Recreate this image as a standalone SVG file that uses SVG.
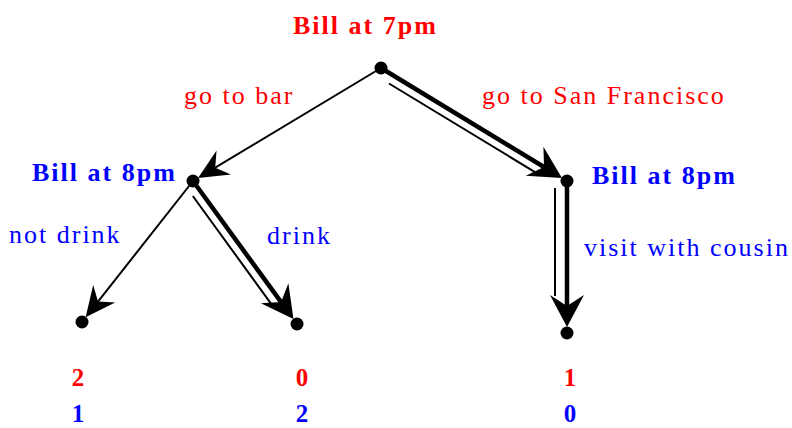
<svg xmlns="http://www.w3.org/2000/svg" width="792" height="428" viewBox="0 0 792 428">
<style>
.t{font-family:"Liberation Serif","Times New Roman",serif;font-size:26px;letter-spacing:2px}
.b{font-weight:bold;letter-spacing:2px}
.n{font-family:"Liberation Serif","Times New Roman",serif;font-size:25px;font-weight:bold;text-anchor:middle}
.red{fill:#ff0000}
.blue{fill:#0000ff}
.thin{stroke:#000;stroke-width:2;fill:none}
.thick{stroke:#000;stroke-width:4.5;fill:none}
.dot{fill:#000}
</style>
<defs>
<marker id="ah" markerUnits="userSpaceOnUse" viewBox="-14 -20 40 40" refX="0" refY="0" markerWidth="40" markerHeight="40" orient="auto" overflow="visible">
<path d="M20,0 L-10,-14 L0,0 L-10,14 Z" fill="#000"/>
</marker>
<marker id="ahb" markerUnits="userSpaceOnUse" viewBox="-14 -20 40 40" refX="0" refY="0" markerWidth="40" markerHeight="40" orient="auto" overflow="visible">
<path d="M21,0 L-11,-17 L0,0 L-11,17 Z" fill="#000"/>
</marker>
</defs>
<g id="connectors">
<line class="thin" x1="381" y1="68" x2="215.2" y2="167.7" marker-end="url(#ah)"/>
<line class="thick" x1="381" y1="68" x2="544.0" y2="167.0" marker-end="url(#ahb)"/>
<line class="thin" x1="389" y1="83.5" x2="535" y2="172.1"/>
<line class="thin" x1="193" y1="181" x2="98.0" y2="301.6" marker-end="url(#ah)"/>
<line class="thick" x1="193" y1="181" x2="281.1" y2="302.1" marker-end="url(#ahb)"/>
<line class="thin" x1="192.8" y1="196" x2="271.5" y2="304.3"/>
<line class="thick" x1="567" y1="181" x2="567" y2="306" marker-end="url(#ahb)"/>
<line class="thin" x1="555" y1="188" x2="555" y2="296"/>
<text class="t red" x="184" y="104">go to bar</text>
<text class="t red" x="482" y="104">go to San Francisco</text>
<text class="t blue" x="9" y="243">not drink</text>
<text class="t blue" x="267" y="244">drink</text>
<text class="t blue" x="584" y="256">visit with cousin</text>
</g>
<g id="root">
<circle class="dot" cx="381" cy="68" r="6.5"/>
<text class="t b red" x="293" y="34">Bill at 7pm</text>
</g>
<g id="bar">
<circle class="dot" cx="193" cy="181" r="6.5"/>
<text class="t b blue" x="32" y="181">Bill at 8pm</text>
</g>
<g id="sf">
<circle class="dot" cx="567" cy="181" r="6.5"/>
<text class="t b blue" x="592" y="184">Bill at 8pm</text>
</g>
<g id="leaf-notdrink">
<circle class="dot" cx="82" cy="322" r="6.5"/>
<text class="n red" x="78" y="386">2</text>
<text class="n blue" x="78" y="422">1</text>
</g>
<g id="leaf-drink">
<circle class="dot" cx="297" cy="324" r="6.5"/>
<text class="n red" x="302" y="386">0</text>
<text class="n blue" x="302" y="422">2</text>
</g>
<g id="leaf-cousin">
<circle class="dot" cx="567" cy="333" r="6.5"/>
<text class="n red" x="570" y="386">1</text>
<text class="n blue" x="570" y="422">0</text>
</g>
</svg>
